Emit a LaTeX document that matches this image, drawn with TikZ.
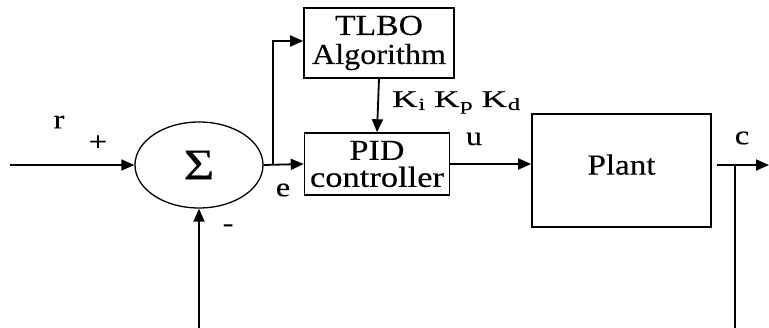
\documentclass[tikz,border=0pt]{standalone}
\usepackage{fontspec}
\setmainfont{Liberation Serif}[FakeBold=0.3]
\usetikzlibrary{shapes.geometric,arrows.meta}
\newcommand{\stretchtxt}[1]{\scalebox{1.2}[1]{#1}}
\newcommand{\fitw}[2]{\resizebox{#1pt}{\height}{#2}}
\newcommand{\ksub}[1]{K\kern0.5pt\raisebox{-3pt}{\fontsize{17}{17}\selectfont #1}}
\tikzset{
  blk/.style={draw, line width=1.6pt, rectangle, inner sep=0pt, align=center,
    font=\fontsize{29}{30}\selectfont},
  wire/.style={line width=1.8pt},
  arr/.style={wire, -{Triangle[length=13pt,width=11pt]}},
  lbl/.style={inner sep=0pt, font=\fontsize{27}{30}\selectfont}
}
\begin{document}
\begin{tikzpicture}[x=1pt,y=-1pt]
\useasboundingbox (0,0) rectangle (769,328);
% blocks
\node[draw, ellipse, line width=1.3pt, minimum width=128pt, minimum height=86pt, inner sep=0pt,
  font=\fontsize{44}{44}\selectfont] (sum) at (199,165) {\stretchtxt{Σ}};
\node[blk, minimum width=150pt, minimum height=70pt] (tlbo) at (379,43)
  {\fitw{88}{TLBO}\\[-1pt]\fitw{134}{Algorithm}};
\node[blk, minimum width=145pt, minimum height=62pt] (pid) at (377,164)
  {\fitw{55}{PID}\\[-3pt]\fitw{134}{controller}};
\node[blk, minimum width=179pt, minimum height=113pt] (plant) at (621.5,170.5)
  {\raisebox{12pt}{\fitw{68}{Plant}}};
% coordinates
\coordinate (in) at (10,165);
\coordinate (br) at (273,165);
\coordinate (outs) at (717,165);
\coordinate (out) at (769,165);
\coordinate (fb) at (735,165);
\coordinate (bot) at (735,328.5);
% connectors
\draw[arr] (in) -- (sum.west);
\draw[arr] (sum.east) -- (pid.west);
\draw[arr] (br) |- ([yshift=2pt]tlbo.west);
\draw[arr] (tlbo.south) -- (pid.north);
\draw[arr] (pid.east) -- (pid.east -| plant.west);
\draw[arr] (outs) -- (out);
\draw[arr] (fb) -- (bot) -| (sum.south);
% labels
\node[lbl] (r) at (59,122) {\stretchtxt{r}};
\node[lbl] (plus) at (98,143) {\stretchtxt{+}};
\node[lbl] (minus) at (228,228) {\stretchtxt{-}};
\node[lbl] (e) at (283,190) {\stretchtxt{e}};
\node[lbl] (u) at (474,139) {\stretchtxt{u}};
\node[lbl] (c) at (742,138) {\stretchtxt{c}};
\node[lbl, anchor=base west, font=\fontsize{24}{26}\selectfont] (k) at (392,107)
  {\fitw{128}{\ksub{i} \ksub{p} \ksub{d}}};
\end{tikzpicture}
\end{document}
